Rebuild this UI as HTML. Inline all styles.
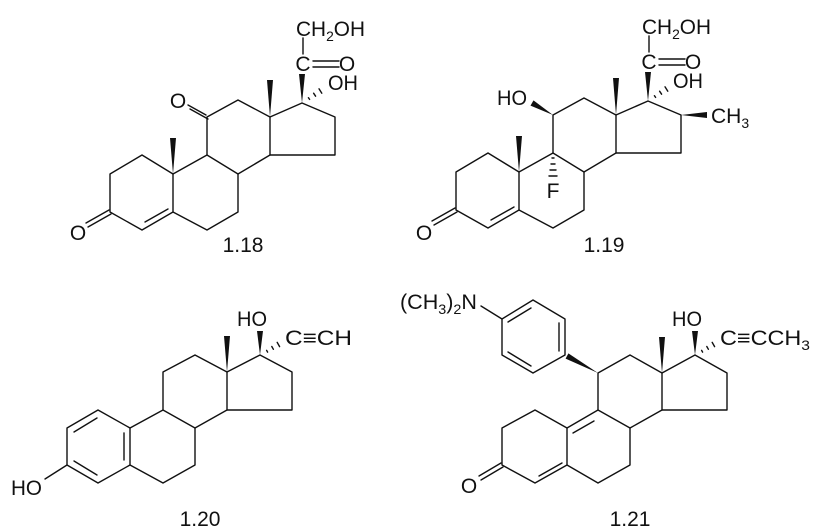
<!DOCTYPE html>
<html><head><meta charset="utf-8"><style>
html,body{margin:0;padding:0;background:#fff;}
svg{display:block;}
text{font-family:"Liberation Sans",Arial,sans-serif;font-size:21px;fill:#111;}
</style></head><body>
<svg width="820" height="529" viewBox="0 0 820 529" xmlns="http://www.w3.org/2000/svg">
<g fill="none" stroke="#111" stroke-width="1.4" stroke-linejoin="round" stroke-linecap="round">
<!-- 1.18 -->
<polygon points="142,155 110,174 110,212 142,230 173,212 173,174"/>
<polyline points="173,174 207,155 238,174 238,212 207,230 173,212"/>
<polyline points="207,155 207,117 238,100 270,117 270,155 238,174"/>
<polyline points="270,117 302,103 335,117 335,155 270,155"/>
<line x1="145" y1="222" x2="168" y2="209"/>
<line x1="109" y1="210" x2="86" y2="223"/><line x1="111" y1="214" x2="88" y2="227"/>
<line x1="206" y1="115" x2="188" y2="105"/><line x1="208" y1="119" x2="190" y2="109"/>
<line x1="303" y1="38" x2="303" y2="54"/>
<line x1="313" y1="61" x2="339" y2="61"/><line x1="313" y1="67" x2="339" y2="67"/>
<line x1="308.4" y1="97.7" x2="309.6" y2="99.4"/>
<line x1="313.6" y1="93.2" x2="315.6" y2="96.2"/>
<line x1="319" y1="88.8" x2="321.8" y2="93.2"/>
<!-- 1.19 -->
<polygon points="488,153 456,172 456,210 488,228 519,210 519,172"/>
<polyline points="519,172 553,153 584,172 584,210 553,228 519,210"/>
<polyline points="553,153 553,115 584,98 616,115 616,153 584,172"/>
<polyline points="616,115 648,101 681,115 681,153 616,153"/>
<line x1="491" y1="220" x2="514" y2="207"/>
<line x1="455" y1="208" x2="432" y2="221"/><line x1="457" y1="212" x2="434" y2="225"/>
<line x1="649" y1="36" x2="649" y2="52"/>
<line x1="659" y1="59" x2="685" y2="59"/><line x1="659" y1="65" x2="685" y2="65"/>
<line x1="654.4" y1="95.7" x2="655.6" y2="97.4"/>
<line x1="659.6" y1="91.2" x2="661.6" y2="94.2"/>
<line x1="665" y1="86.8" x2="667.8" y2="91.2"/>
<line x1="552" y1="158" x2="554" y2="158"/>
<line x1="551" y1="164" x2="555" y2="164"/>
<line x1="550" y1="170" x2="556" y2="170"/>
<line x1="549" y1="176" x2="557" y2="176"/>
<!-- 1.20 -->
<polygon points="98,410 67,428 67,465 98,483 130,465 130,428"/>
<polyline points="130,428 163,410 195,428 195,465 163,483 130,465"/>
<polyline points="163,410 163,372 195,355 227,372 227,410 195,428"/>
<polyline points="227,372 260,355 292,372 292,410 227,410"/>
<line x1="74" y1="432" x2="97" y2="418"/>
<line x1="124" y1="433" x2="124" y2="460"/>
<line x1="74" y1="461" x2="97" y2="475"/>
<line x1="67" y1="465" x2="45" y2="479"/>
<line x1="266.6" y1="350.3" x2="267.6" y2="352.1"/>
<line x1="271.8" y1="346.5" x2="273.4" y2="349.3"/>
<line x1="277.2" y1="342.4" x2="279.6" y2="346.6"/>
<!-- 1.21 -->
<polygon points="535,410 502,428 502,465 535,483 567,465 567,428"/>
<polyline points="567,428 598,410 630,428 630,465 598,483 567,465"/>
<polyline points="598,410 598,373 630,355 662,373 662,410 630,428"/>
<polyline points="662,373 695,355 727,373 727,410 662,410"/>
<line x1="573" y1="433" x2="594" y2="421"/>
<line x1="539" y1="476" x2="562" y2="463"/>
<line x1="501" y1="463" x2="479" y2="476"/><line x1="503" y1="467" x2="481" y2="480"/>
<polygon points="565,355 565,319 533,300 502,319 502,355 533,373"/>
<line x1="508" y1="322" x2="531" y2="308"/>
<line x1="559" y1="323" x2="559" y2="351"/>
<line x1="508" y1="352" x2="531" y2="366"/>
<line x1="502" y1="319" x2="481" y2="306"/>
<line x1="701.6" y1="350.3" x2="702.6" y2="352.1"/>
<line x1="706.8" y1="346.5" x2="708.4" y2="349.3"/>
<line x1="712.2" y1="342.4" x2="714.6" y2="346.6"/>
</g>
<g fill="#111" stroke="none">
<polygon points="270,117 267,80 273,80"/>
<polygon points="173,174 170,138 176,138"/>
<polygon points="302,103 299,74 305,74"/>
<polygon points="616,115 613,78 619,78"/>
<polygon points="519,172 516,136 522,136"/>
<polygon points="648,101 645,72 651,72"/>
<polygon points="553,115 533.5,100.4 530.5,105.6"/>
<polygon points="681,115 707,112 707,118"/>
<polygon points="227,372 224,336 230,336"/>
<polygon points="260,355 257,331 263,331"/>
<polygon points="662,373 659,337 665,337"/>
<polygon points="695,355 692,331 698,331"/>
<polygon points="598,373 568.4,353.4 565.6,358.6"/>
</g>
<!-- text 1.18 -->
<text x="296" y="36" textLength="69" lengthAdjust="spacingAndGlyphs">CH<tspan font-size="14" dy="5">2</tspan><tspan dy="-5">OH</tspan></text>
<text x="303" y="71" text-anchor="middle">C</text>
<text x="347" y="71" text-anchor="middle">O</text>
<text x="328" y="90" textLength="30" lengthAdjust="spacingAndGlyphs">OH</text>
<text x="178" y="108" text-anchor="middle">O</text>
<text x="78" y="240" text-anchor="middle">O</text>
<text x="243" y="252" text-anchor="middle">1.18</text>
<!-- 1.19 -->
<text x="642" y="34" textLength="69" lengthAdjust="spacingAndGlyphs">CH<tspan font-size="14" dy="5">2</tspan><tspan dy="-5">OH</tspan></text>
<text x="649" y="69" text-anchor="middle">C</text>
<text x="693" y="69" text-anchor="middle">O</text>
<text x="673" y="88" textLength="30" lengthAdjust="spacingAndGlyphs">OH</text>
<text x="497" y="105" textLength="30" lengthAdjust="spacingAndGlyphs">HO</text>
<text x="553" y="198" text-anchor="middle">F</text>
<text x="711" y="123">CH<tspan font-size="14" dy="5">3</tspan></text>
<text x="424" y="240" text-anchor="middle">O</text>
<text x="604" y="252" text-anchor="middle">1.19</text>
<!-- 1.20 -->
<text x="237" y="326" textLength="30" lengthAdjust="spacingAndGlyphs">HO</text>
<text x="285" y="345" textLength="67" lengthAdjust="spacingAndGlyphs">C≡CH</text>
<text x="11" y="495" textLength="31" lengthAdjust="spacingAndGlyphs">HO</text>
<text x="200" y="526" text-anchor="middle">1.20</text>
<!-- 1.21 -->
<text x="400" y="309" textLength="77" lengthAdjust="spacingAndGlyphs">(CH<tspan font-size="14" dy="5">3</tspan><tspan dy="-5">)</tspan><tspan font-size="14" dy="5">2</tspan><tspan dy="-5">N</tspan></text>
<text x="672" y="326" textLength="30" lengthAdjust="spacingAndGlyphs">HO</text>
<text x="720" y="345" textLength="90" lengthAdjust="spacingAndGlyphs">C≡CCH<tspan font-size="14" dy="5">3</tspan></text>
<text x="469" y="493" text-anchor="middle">O</text>
<text x="630" y="526" text-anchor="middle">1.21</text>
</svg>
</body></html>
